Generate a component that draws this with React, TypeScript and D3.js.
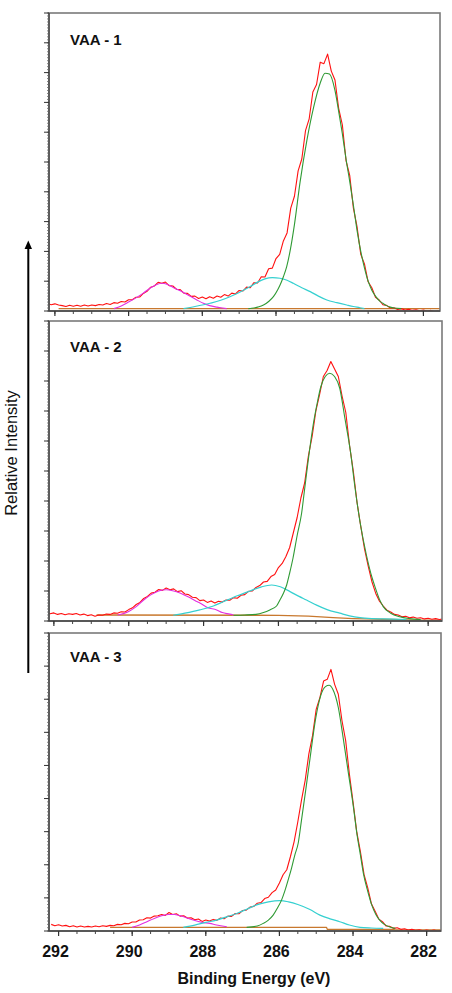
import React from "react";
import * as d3 from "d3";

// ---------- data ----------
const panelLabels = ["VAA - 1", "VAA - 2", "VAA - 3"];
const xTickValues = [292, 290, 288, 286, 284, 282];
const xDomains: [number, number][] = [
  [292.16, 281.55],
  [292.13, 281.63],
  [292.26, 281.61],
];
const yMaxes = [10, 10, 9];

// measured spectra sampled from 292.2 eV downward every 0.1 eV
const redStartEnergy = 292.2;
const redStepEnergy = 0.1;

const p1Red = [
  0.25, 0.21, 0.24, 0.2, 0.18, 0.15, 0.19, 0.16, 0.19, 0.16,
  0.2, 0.17, 0.2, 0.18, 0.22, 0.2, 0.25, 0.22, 0.28, 0.26,
  0.32, 0.3, 0.38, 0.38, 0.46, 0.47, 0.59, 0.66, 0.8, 0.84,
  0.96, 0.93, 0.97, 0.85, 0.84, 0.73, 0.72, 0.6, 0.59, 0.49,
  0.5, 0.42, 0.47, 0.41, 0.48, 0.43, 0.5, 0.46, 0.55, 0.5,
  0.6, 0.57, 0.69, 0.67, 0.8, 0.78, 0.95, 0.94, 1.15, 1.14,
  1.42, 1.44, 1.76, 1.9, 2.35, 2.62, 3.45, 3.85, 4.7, 5.1,
  6.05, 6.45, 7.35, 7.6, 8.35, 8.3, 8.62, 8.05, 7.75, 6.8,
  6.25, 5.05, 4.55, 3.45, 2.82, 1.9, 1.58, 0.98, 0.78, 0.46,
  0.37, 0.21, 0.19, 0.1, 0.11, 0.05, 0.08, 0.03, 0.06, 0.02,
  0.04, 0.01, 0.03, 0.0, 0.02, -0.02, 0.0,
];
const p2Red = [
  0.27, 0.24, 0.27, 0.22, 0.25, 0.21, 0.24, 0.22, 0.25, 0.2,
  0.23, 0.18, 0.21, 0.16, 0.2, 0.19, 0.23, 0.22, 0.27, 0.26,
  0.31, 0.3, 0.38, 0.44, 0.55, 0.62, 0.75, 0.82, 0.93, 0.96,
  1.05, 1.02, 1.1, 1.04, 1.07, 0.98, 1.01, 0.9, 0.88, 0.79,
  0.78, 0.68, 0.7, 0.62, 0.67, 0.6, 0.66, 0.63, 0.7, 0.69,
  0.78, 0.76, 0.86, 0.88, 0.99, 1.0, 1.12, 1.18, 1.3, 1.32,
  1.48, 1.55, 1.78, 1.92, 2.15, 2.45, 2.95, 3.45, 4.1, 4.6,
  5.5, 6.15, 7.0, 7.55, 8.15, 8.35, 8.65, 8.4, 8.15, 7.5,
  6.95, 5.85, 5.0, 3.95, 3.15, 2.4, 1.82, 1.3, 0.92, 0.66,
  0.5, 0.36, 0.3, 0.22, 0.2, 0.14, 0.16, 0.11, 0.13, 0.09,
  0.11, 0.07, 0.09, 0.06, 0.08, 0.05, 0.07,
];
const p3Red = [
  0.2, 0.16, 0.19, 0.15, 0.17, 0.13, 0.16, 0.12, 0.15, 0.12,
  0.14, 0.12, 0.15, 0.13, 0.16, 0.14, 0.17, 0.16, 0.2, 0.19,
  0.23, 0.22, 0.27, 0.27, 0.33, 0.34, 0.4, 0.39, 0.45, 0.46,
  0.5, 0.47, 0.56, 0.5, 0.52, 0.45, 0.46, 0.39, 0.4, 0.34,
  0.36, 0.29, 0.33, 0.3, 0.35, 0.32, 0.39, 0.37, 0.45, 0.44,
  0.53, 0.52, 0.62, 0.63, 0.72, 0.74, 0.84, 0.86, 0.98, 1.02,
  1.16, 1.24, 1.45, 1.7, 1.85, 2.25, 2.7, 3.3, 3.95, 4.55,
  5.35, 5.9, 6.7, 7.05, 7.55, 7.6, 7.9, 7.45, 7.15, 6.35,
  5.75, 4.75, 3.9, 3.0, 2.4, 1.7, 1.3, 0.82, 0.6, 0.36,
  0.28, 0.15, 0.14, 0.08, 0.1, 0.05, 0.07, 0.03, 0.05, 0.02,
  0.04, 0.01, 0.03, 0.01, 0.03, 0.0, 0.02,
];

// fitted components: [binding energy (eV), intensity]
const p1Green: [number, number][] = [
  [286.75, 0.08], [286.66, 0.09], [286.5, 0.13], [286.34, 0.2], [286.2, 0.32],
  [286.07, 0.48], [285.95, 0.72], [285.89, 0.87], [285.8, 1.15], [285.71, 1.49],
  [285.62, 2.0], [285.5, 2.9], [285.35, 4.3], [285.16, 5.74], [284.98, 6.83],
  [284.8, 7.65], [284.67, 7.98], [284.55, 7.95], [284.4, 7.4], [284.3, 6.7],
  [284.2, 5.95], [284.1, 5.1], [284.0, 4.35], [283.9, 3.55], [283.8, 2.7],
  [283.7, 2.0], [283.6, 1.45], [283.5, 1.0], [283.4, 0.7], [283.3, 0.5],
  [283.2, 0.35], [283.1, 0.26], [283.0, 0.18], [282.9, 0.13], [282.8, 0.1],
  [282.6, 0.08],
];
const p1Cyan: [number, number][] = [
  [288.51, 0.08], [288.2, 0.15], [287.79, 0.26], [287.5, 0.36], [287.25, 0.48],
  [287.0, 0.62], [286.7, 0.82], [286.5, 0.97], [286.3, 1.08], [286.1, 1.12],
  [285.89, 1.1], [285.7, 1.03], [285.53, 0.93], [285.3, 0.78], [285.07, 0.65],
  [284.85, 0.5], [284.62, 0.37], [284.35, 0.28], [284.08, 0.2], [283.9, 0.15],
  [283.72, 0.11], [283.6, 0.08],
];
const p1Magenta: [number, number][] = [
  [290.4, 0.08], [290.2, 0.17], [290.0, 0.3], [289.8, 0.44], [289.6, 0.6],
  [289.4, 0.78], [289.25, 0.88], [289.1, 0.93], [288.96, 0.9], [288.8, 0.8],
  [288.6, 0.68], [288.45, 0.58], [288.3, 0.48], [288.1, 0.34], [287.97, 0.26],
  [287.8, 0.18], [287.6, 0.13], [287.45, 0.1], [287.34, 0.08],
];
const p1Base: [number, number][] = [[291.9, 0.08], [281.55, 0.08]];

const p2Green: [number, number][] = [
  [287.2, 0.19], [286.9, 0.2], [286.6, 0.22], [286.4, 0.28], [286.23, 0.37],
  [286.05, 0.5], [285.96, 0.7], [285.87, 0.92], [285.78, 1.2], [285.7, 1.6],
  [285.61, 2.1], [285.5, 2.85], [285.38, 3.6], [285.3, 4.4], [285.21, 5.3],
  [285.07, 6.55], [284.95, 7.35], [284.87, 7.8], [284.75, 8.15], [284.63, 8.26],
  [284.5, 8.15], [284.36, 7.75], [284.23, 6.8], [284.07, 5.6], [283.96, 4.5],
  [283.82, 3.3], [283.65, 2.2], [283.5, 1.45], [283.42, 1.14], [283.3, 0.72],
  [283.2, 0.48], [283.0, 0.26], [282.76, 0.14], [282.5, 0.08], [282.2, 0.05],
];
const p2Cyan: [number, number][] = [
  [288.81, 0.19], [288.5, 0.26], [288.1, 0.37], [287.74, 0.5], [287.48, 0.64],
  [287.1, 0.84], [286.76, 1.0], [286.45, 1.14], [286.18, 1.2], [285.95, 1.14],
  [285.69, 0.98], [285.45, 0.82], [285.25, 0.7], [284.98, 0.53], [284.7, 0.38],
  [284.36, 0.26], [284.1, 0.17], [283.82, 0.11], [283.5, 0.08], [283.2, 0.07],
  [282.58, 0.05],
];
const p2Magenta: [number, number][] = [
  [290.3, 0.2], [290.0, 0.32], [289.8, 0.48], [289.6, 0.7], [289.4, 0.88],
  [289.2, 1.0], [289.0, 1.04], [288.8, 1.0], [288.6, 0.92], [288.4, 0.8],
  [288.2, 0.66], [288.1, 0.6], [287.9, 0.45], [287.65, 0.37], [287.5, 0.28],
  [287.3, 0.23], [287.2, 0.2],
];
const p2Base: [number, number][] = [
  [290.86, 0.2], [286.0, 0.19], [285.2, 0.16], [284.54, 0.11], [284.0, 0.08],
  [283.65, 0.07], [283.0, 0.05], [282.31, 0.03], [281.63, 0.03],
];

const p3Green: [number, number][] = [
  [286.89, 0.11], [286.6, 0.15], [286.44, 0.23], [286.3, 0.33], [286.17, 0.48],
  [286.05, 0.7], [285.94, 0.94], [285.85, 1.22], [285.76, 1.55], [285.67, 1.9],
  [285.58, 2.3], [285.49, 2.65], [285.4, 3.35], [285.28, 4.3], [285.17, 5.2],
  [285.01, 6.45], [284.88, 7.1], [284.75, 7.38], [284.65, 7.42], [284.55, 7.3],
  [284.4, 6.75], [284.27, 5.85], [284.13, 4.8], [283.99, 3.75], [283.89, 2.9],
  [283.8, 2.3], [283.72, 1.75], [283.6, 1.2], [283.49, 0.78], [283.38, 0.5],
  [283.27, 0.32], [283.15, 0.2], [283.0, 0.12], [282.85, 0.08],
];
const p3Cyan: [number, number][] = [
  [288.61, 0.11], [288.3, 0.18], [288.0, 0.26], [287.71, 0.33], [287.4, 0.44],
  [287.16, 0.53], [286.9, 0.65], [286.62, 0.79], [286.3, 0.88], [285.99, 0.92],
  [285.75, 0.88], [285.5, 0.8], [285.17, 0.65], [284.9, 0.48], [284.6, 0.36],
  [284.36, 0.28], [284.1, 0.18], [283.81, 0.11], [283.5, 0.09], [283.18, 0.08],
];
const p3Magenta: [number, number][] = [
  [290.0, 0.11], [289.8, 0.18], [289.6, 0.28], [289.4, 0.38], [289.2, 0.46],
  [289.0, 0.5], [288.85, 0.5], [288.6, 0.43], [288.34, 0.33], [288.1, 0.26],
  [287.89, 0.23], [287.71, 0.18], [287.43, 0.13],
];
const p3Base: [number, number][] = [
  [290.6, 0.11], [284.72, 0.11], [284.7, 0.05], [282.9, 0.05], [282.85, 0.03],
  [281.61, 0.03],
];

const panelsData = [
  { red: p1Red, green: p1Green, cyan: p1Cyan, magenta: p1Magenta, base: p1Base },
  { red: p2Red, green: p2Green, cyan: p2Cyan, magenta: p2Magenta, base: p2Base },
  { red: p3Red, green: p3Green, cyan: p3Cyan, magenta: p3Magenta, base: p3Base },
];

// ---------- layout ----------
const LEFT = 49;
const frames = [
  { top: 13, bottom: 311, right: 440, labelY: 45 },
  { top: 321, bottom: 621, right: 442, labelY: 352 },
  { top: 633, bottom: 931, right: 441, labelY: 662 },
];
const FONT = "Arial, 'Liberation Sans', Helvetica, sans-serif";
const COLORS = {
  red: "#ff1010",
  green: "#2f9a34",
  cyan: "#35d0d0",
  magenta: "#e22ee2",
  base: "#c8782e",
};

function Panel({ idx }: { idx: number }) {
  const f = frames[idx];
  const d = panelsData[idx];
  const x = d3.scaleLinear().domain(xDomains[idx]).range([LEFT, f.right]);
  const y = d3.scaleLinear().domain([0, yMaxes[idx]]).range([f.bottom, f.top]);
  const smooth = d3
    .line<[number, number]>()
    .x((p) => x(p[0]))
    .y((p) => y(p[1]))
    .curve(d3.curveMonotoneX);
  const straight = d3
    .line<[number, number]>()
    .x((p) => x(p[0]))
    .y((p) => y(p[1]));
  const redPts: [number, number][] = d.red.map((v, i) => [
    +(redStartEnergy - i * redStepEnergy).toFixed(2),
    v,
  ]);
  const [xa, xb] = xDomains[idx];
  const lo = Math.min(xa, xb);
  const hi = Math.max(xa, xb);
  const minorX = d3.range(281.5, 292.51, 0.5).filter((v) => v >= lo && v <= hi);
  const majorY = d3.range(0, yMaxes[idx] + 0.001, 1);
  const minorY = d3.range(0, yMaxes[idx] + 0.001, 0.1);
  const clipId = `clip${idx}`;
  return (
    <g>
      <defs>
        <clipPath id={clipId}>
          <rect x={LEFT} y={f.top} width={f.right - LEFT} height={f.bottom - f.top} />
        </clipPath>
      </defs>
      <g clipPath={`url(#${clipId})`} fill="none" strokeLinejoin="round">
        <path d={straight(d.base) || ""} stroke={COLORS.base} strokeWidth={1.3} />
        <path d={straight(redPts) || ""} stroke={COLORS.red} strokeWidth={1.1} />
        <path d={smooth(d.magenta) || ""} stroke={COLORS.magenta} strokeWidth={1.1} />
        <path d={smooth(d.cyan) || ""} stroke={COLORS.cyan} strokeWidth={1.2} />
        <path d={smooth(d.green) || ""} stroke={COLORS.green} strokeWidth={1.1} />
      </g>
      {/* frame */}
      <rect
        x={LEFT}
        y={f.top}
        width={f.right - LEFT}
        height={f.bottom - f.top}
        fill="none"
        stroke="#7a7a7a"
        strokeWidth={1.6}
      />
      <line x1={LEFT} x2={LEFT} y1={f.top} y2={f.bottom} stroke="#444" strokeWidth={1.4} />
      <line x1={LEFT} x2={f.right} y1={f.bottom} y2={f.bottom} stroke="#444" strokeWidth={1.4} />
      {/* y ticks */}
      {minorY.map((v, i) => (
        <line key={"ym" + i} x1={LEFT - 2} x2={LEFT} y1={y(v)} y2={y(v)} stroke="#666" strokeWidth={0.8} />
      ))}
      {majorY.map((v, i) => (
        <line key={"yM" + i} x1={LEFT - 5} x2={LEFT} y1={y(v)} y2={y(v)} stroke="#333" strokeWidth={1} />
      ))}
      {/* x ticks */}
      {minorX.map((v, i) => (
        <line key={"xm" + i} x1={x(v)} x2={x(v)} y1={f.bottom} y2={f.bottom + 3} stroke="#444" strokeWidth={1} />
      ))}
      {xTickValues.map((v, i) => (
        <line key={"xM" + i} x1={x(v)} x2={x(v)} y1={f.bottom} y2={f.bottom + 5} stroke="#333" strokeWidth={1.2} />
      ))}
      {idx === 2 &&
        xTickValues.map((v, i) => (
          <text
            key={"xl" + i}
            x={x(v) - 3}
            y={956.5}
            textAnchor="middle"
            fontSize={16}
            fontWeight="bold"
            fill="#111"
            fontFamily={FONT}
          >
            {v}
          </text>
        ))}
      <text x={70} y={f.labelY} fontSize={15} fontWeight="bold" fill="#111" fontFamily={FONT}>
        {panelLabels[idx]}
      </text>
    </g>
  );
}

export default function App() {
  return (
    <svg
      width={452}
      height={993}
      style={{ position: "absolute", left: 0, top: 0, display: "block" }}
    >
      <rect x={0} y={0} width={452} height={993} fill="#ffffff" />
      {[0, 1, 2].map((i) => (
        <Panel key={i} idx={i} />
      ))}
      {/* arrow */}
      <line x1={28.3} x2={28.3} y1={673} y2={247} stroke="#000" strokeWidth={2} />
      <path d="M24.6,249 L28.3,240.5 L32,249 Z" fill="#000" />
      <text
        transform="translate(17,453) rotate(-90)"
        textAnchor="middle"
        fontSize={16.5}
        fill="#111"
        fontFamily={FONT}
      >
        Relative Intensity
      </text>
      <text x={254} y={984} textAnchor="middle" fontSize={16} fontWeight="bold" fill="#111" fontFamily={FONT}>
        Binding Energy (eV)
      </text>
    </svg>
  );
}
